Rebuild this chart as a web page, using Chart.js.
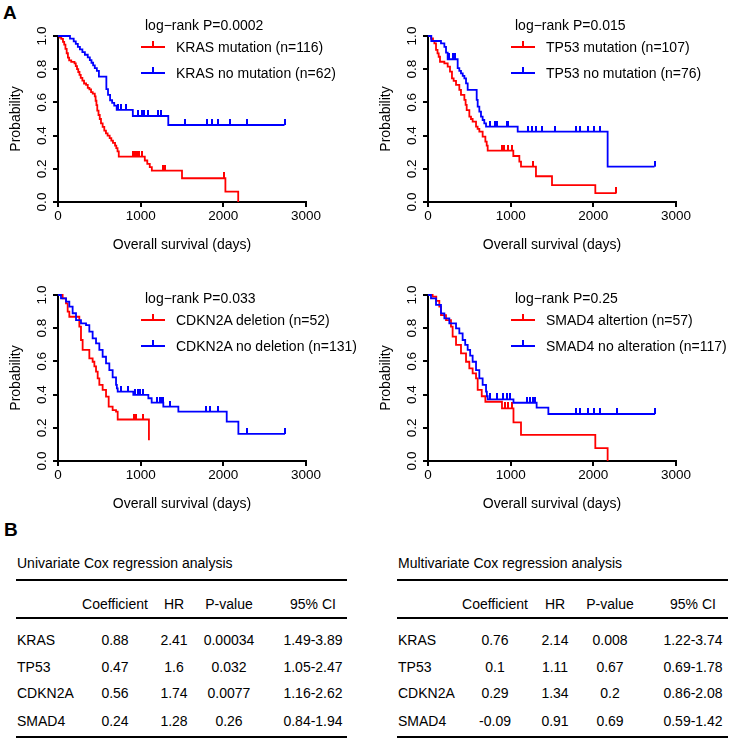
<!DOCTYPE html>
<html>
<head>
<meta charset="utf-8">
<script src="https://cdn.jsdelivr.net/npm/chart.js@4.4.1/dist/chart.umd.min.js"></script>
<style>
  body { margin: 0; background: #fff; color: #000; font-family: "Liberation Sans", Arial, sans-serif; }
  #page { position: relative; width: 735px; height: 741px; overflow: hidden; }
  .panel { position: absolute; width: 367px; height: 262px; }
  .panel canvas { position: absolute; left: 0; top: 0; }
  .txt { position: absolute; white-space: nowrap; font-family: "Liberation Sans", Arial, sans-serif; font-size: 14px; line-height: 16px; }
  .big { position: absolute; font-family: "Liberation Sans", Arial, sans-serif; font-weight: bold; font-size: 19px; line-height: 20px; }
  .c { transform: translateX(-50%); }
</style>
</head>
<body>
<div id="page">
  <div class="big" style="left:3px; top:3px;">A</div>
  <div class="big" style="left:4px; top:520px;">B</div>
</div>
<script>
const FONT = '"Liberation Sans", Arial, sans-serif';
const RED = '#ff0000';
const BLUE = '#0000ff';

// survival curves: [days, probability]
const krasMut = [[0,1],[20,0.991],[40,0.983],[60,0.965],[75,0.948],[90,0.922],[105,0.896],[120,0.87],[135,0.853],[160,0.844],[200,0.835],[215,0.818],[230,0.8],[245,0.783],[260,0.766],[275,0.748],[295,0.731],[315,0.714],[340,0.705],[360,0.688],[380,0.679],[400,0.662],[420,0.653],[445,0.636],[455,0.61],[465,0.584],[475,0.55],[490,0.524],[505,0.5],[520,0.474],[540,0.452],[560,0.43],[580,0.414],[600,0.4],[625,0.385],[645,0.37],[665,0.356],[690,0.34],[705,0.325],[720,0.305],[735,0.273],[1050,0.25],[1080,0.23],[1110,0.21],[1135,0.189],[1500,0.143],[2025,0.063],[2180,0]];
const krasMutCens = [910, 930, 950, 975, 1015, 1270, 1300, 2010];
const krasNo = [[0,1],[145,0.984],[190,0.968],[215,0.952],[240,0.935],[265,0.919],[295,0.903],[325,0.887],[360,0.871],[385,0.855],[405,0.839],[425,0.823],[445,0.806],[470,0.79],[495,0.755],[585,0.68],[605,0.645],[630,0.613],[655,0.597],[680,0.58],[710,0.555],[905,0.518],[1334,0.464],[2740,0.464]];
const krasNoCens = [730, 762, 823, 964, 1016, 1044, 1085, 1206, 1246, 1537, 1799, 1860, 1940, 2081, 2283, 2740];

const tp53Mut = [[0,1],[36,0.985],[60,0.97],[77,0.956],[97,0.916],[115,0.895],[129,0.875],[145,0.845],[198,0.835],[238,0.815],[266,0.785],[290,0.745],[310,0.73],[339,0.705],[379,0.675],[399,0.645],[440,0.615],[455,0.585],[468,0.554],[500,0.514],[520,0.5],[540,0.484],[581,0.454],[600,0.44],[621,0.424],[661,0.394],[694,0.364],[710,0.34],[722,0.309],[1032,0.277],[1105,0.243],[1125,0.213],[1306,0.155],[1500,0.102],[2024,0.054],[2280,0.054]];
const tp53MutCens = [895, 923, 964, 1016, 1274, 2280];
const tp53No = [[0,1],[40,0.97],[157,0.955],[198,0.935],[218,0.9],[238,0.86],[359,0.806],[379,0.79],[399,0.775],[420,0.76],[440,0.745],[460,0.715],[480,0.675],[589,0.615],[601,0.574],[621,0.544],[641,0.514],[661,0.494],[681,0.474],[702,0.454],[1085,0.424],[2173,0.213],[2740,0.213]];
const tp53NoCens = [258, 298, 331, 750, 811, 831, 952, 972, 1214, 1254, 1307, 1375, 1536, 1790, 1839, 1940, 2008, 2081, 2740];

const cdknDel = [[0,1],[56,0.98],[97,0.95],[117,0.9],[137,0.869],[258,0.809],[278,0.729],[298,0.669],[379,0.618],[419,0.598],[440,0.57],[460,0.538],[480,0.498],[500,0.458],[540,0.428],[581,0.388],[613,0.327],[661,0.307],[702,0.297],[722,0.25],[1100,0.125]];
const cdknDelCens = [923, 943, 1032];
const cdknNo = [[0,1],[36,0.98],[97,0.96],[137,0.93],[177,0.89],[218,0.849],[278,0.829],[339,0.819],[379,0.779],[419,0.739],[460,0.709],[500,0.669],[540,0.628],[581,0.588],[621,0.548],[661,0.504],[702,0.458],[712,0.438],[722,0.418],[911,0.398],[1093,0.378],[1133,0.352],[1274,0.327],[1456,0.297],[2041,0.237],[2182,0.163],[2746,0.163]];
const cdknNoCens = [762, 843, 932, 972, 992, 1032, 1200, 1230, 1250, 1265, 1355, 1790, 1839, 1940, 2283, 2746];

const smadAlt = [[0,1],[56,0.99],[100,0.965],[137,0.93],[157,0.879],[218,0.849],[278,0.809],[298,0.749],[339,0.699],[399,0.648],[460,0.598],[500,0.558],[540,0.528],[581,0.498],[601,0.428],[650,0.39],[694,0.357],[895,0.317],[1034,0.233],[1125,0.157],[2024,0.078],[2173,0]];
const smadAltCens = [932, 972, 1012];
const smadNo = [[0,1],[36,0.98],[97,0.94],[157,0.889],[198,0.859],[258,0.829],[339,0.799],[379,0.769],[419,0.729],[450,0.7],[480,0.669],[510,0.635],[540,0.598],[581,0.548],[621,0.498],[661,0.458],[702,0.418],[712,0.39],[722,0.371],[1034,0.351],[1314,0.321],[1456,0.283],[2746,0.283]];
const smadNoCens = [750, 831, 911, 952, 992, 1194, 1234, 1274, 1300, 1790, 1839, 1940, 2008, 2081, 2283, 2746];

const xTicks = [0, 1000, 2000, 3000];

// Cox tables
const tableGenes = ['KRAS', 'TP53', 'CDKN2A', 'SMAD4'];
const tableHeads = ['Coefficient', 'HR', 'P-value', '95% CI'];
const uniCoef = ['0.88', '0.47', '0.56', '0.24'];
const uniHR = ['2.41', '1.6', '1.74', '1.28'];
const uniP = ['0.00034', '0.032', '0.0077', '0.26'];
const uniCI = ['1.49-3.89', '1.05-2.47', '1.16-2.62', '0.84-1.94'];
const multiCoef = ['0.76', '0.1', '0.29', '-0.09'];
const multiHR = ['2.14', '1.11', '1.34', '0.91'];
const multiP = ['0.008', '0.67', '0.2', '0.69'];
const multiCI = ['1.22-3.74', '0.69-1.78', '0.86-2.08', '0.59-1.42'];

const page = document.getElementById('page');

function addText(parent, text, x, y, center) {
  const d = document.createElement('div');
  d.className = center ? 'txt c' : 'txt';
  d.style.left = x + 'px';
  d.style.top = (y - 8) + 'px';
  d.textContent = text;
  parent.appendChild(d);
  return d;
}

function addBox(parent, x, y, w, h, color) {
  const d = document.createElement('div');
  d.style.cssText = 'position:absolute;left:' + x + 'px;top:' + y + 'px;width:' + w + 'px;height:' + h + 'px;background:' + color;
  parent.appendChild(d);
}

function tickImg(color) {
  const c = document.createElement('canvas');
  c.width = 2; c.height = 12;
  const g = c.getContext('2d');
  g.fillStyle = color;
  g.fillRect(0, 0, 2, 6);
  return c;
}

function survAt(curve, t) {
  let s = curve[0][1];
  curve.forEach(p => { if (p[0] <= t) s = p[1]; });
  return s;
}

function stepSet(curve, color, order) {
  return {
    data: curve.map(p => ({ x: p[0], y: p[1] })),
    borderColor: color, borderWidth: 1.8, stepped: true,
    pointRadius: 0, fill: false, clip: 6, order: order
  };
}

function censSet(curve, times, color, order) {
  return {
    data: times.map(t => ({ x: t, y: survAt(curve, t) })),
    showLine: false, pointStyle: tickImg(color), pointRadius: 3,
    borderColor: color, backgroundColor: color, clip: 8, order: order
  };
}

function kmOptions() {
  return {
    responsive: false, animation: false, events: [],
    layout: { padding: { top: 36, right: 61, left: 0, bottom: 0 } },
    plugins: { legend: { display: false }, tooltip: { enabled: false } },
    scales: {
      x: {
        type: 'linear', min: 0, max: 3000,
        afterBuildTicks: s => { s.ticks = xTicks.map(v => ({ value: v })); },
        ticks: { color: '#000', font: { family: FONT, size: 13.5 }, padding: 1, maxRotation: 0, callback: v => String(v) },
        grid: { drawOnChartArea: false, drawTicks: true, tickLength: 5, color: '#000', lineWidth: 2 },
        border: { color: '#000', width: 2 },
        title: { display: true, text: 'Overall survival (days)', color: '#000', font: { family: FONT, size: 14 }, padding: { top: 0, bottom: 8 } },
        afterFit: s => { s.height = 60; }
      },
      y: {
        min: 0, max: 1,
        ticks: { stepSize: 0.2, color: '#000', font: { family: FONT, size: 13.5 }, minRotation: 90, maxRotation: 90, crossAlign: 'center', padding: 1, callback: v => v.toFixed(1) },
        grid: { drawOnChartArea: false, drawTicks: true, tickLength: 5, color: '#000', lineWidth: 2 },
        border: { color: '#000', width: 2 },
        title: { display: true, text: 'Probability', color: '#000', font: { family: FONT, size: 14 }, padding: { top: 7.5, bottom: 0 } },
        afterFit: s => { s.width = 58; }
      }
    }
  };
}

const panels = [
  { left: 0, top: 0, ly: 25, p: 'log\u2212rank P=0.0002', names: ['KRAS mutation (n=116)', 'KRAS no mutation (n=62)'], red: krasMut, redCens: krasMutCens, blue: krasNo, blueCens: krasNoCens },
  { left: 370, top: 0, ly: 25, p: 'log\u2212rank P=0.015', names: ['TP53 mutation (n=107)', 'TP53 no mutation (n=76)'], red: tp53Mut, redCens: tp53MutCens, blue: tp53No, blueCens: tp53NoCens },
  { left: 0, top: 259, ly: 39, p: 'log\u2212rank P=0.033', names: ['CDKN2A deletion (n=52)', 'CDKN2A no deletion (n=131)'], red: cdknDel, redCens: cdknDelCens, blue: cdknNo, blueCens: cdknNoCens },
  { left: 370, top: 259, ly: 39, p: 'log\u2212rank P=0.25', names: ['SMAD4 altertion (n=57)', 'SMAD4 no alteration (n=117)'], red: smadAlt, redCens: smadAltCens, blue: smadNo, blueCens: smadNoCens }
];

panels.forEach(pn => {
  const box = document.createElement('div');
  box.className = 'panel';
  box.style.left = pn.left + 'px';
  box.style.top = pn.top + 'px';
  const cv = document.createElement('canvas');
  cv.width = 367; cv.height = 262;
  box.appendChild(cv);
  page.appendChild(box);

  new Chart(cv, {
    type: 'line',
    data: {
      datasets: [
        stepSet(pn.red, RED, 3),
        censSet(pn.red, pn.redCens, RED, 2),
        stepSet(pn.blue, BLUE, 1),
        censSet(pn.blue, pn.blueCens, BLUE, 0)
      ]
    },
    options: kmOptions()
  });

  // legend
  addText(box, pn.p, 145, pn.ly, false);
  [RED, BLUE].forEach((col, i) => {
    const y = pn.ly + 21.5 + i * 26;
    addBox(box, 141, Math.round(y) - 1, 24, 2, col);
    addBox(box, 152, Math.round(y) - 6, 2, 6, col);
    addText(box, pn.names[i], 176, y, false);
  });
});

function buildTable(x0, x1, title, cols, coef, hr, pv, ci) {
  addText(page, title, x0 + 1, 563, false);
  addBox(page, x0, 579, x1 - x0, 2, '#000');
  tableHeads.forEach((h, j) => addText(page, h, cols[j], 604, true));
  addBox(page, x0, 617, x1 - x0, 2, '#000');
  const rowY = [640, 667, 693, 721];
  tableGenes.forEach((g, i) => {
    addText(page, g, x0 + 1, rowY[i], false);
    [coef, hr, pv, ci].forEach((arr, j) => addText(page, arr[i], cols[j], rowY[i], true));
  });
  addBox(page, x0, 736, x1 - x0, 2, '#000');
}

buildTable(16, 347, 'Univariate Cox regression analysis', [115, 174, 229, 313], uniCoef, uniHR, uniP, uniCI);
buildTable(397, 728, 'Multivariate Cox regression analysis', [495, 555, 610, 693], multiCoef, multiHR, multiP, multiCI);
</script>
</body>
</html>
